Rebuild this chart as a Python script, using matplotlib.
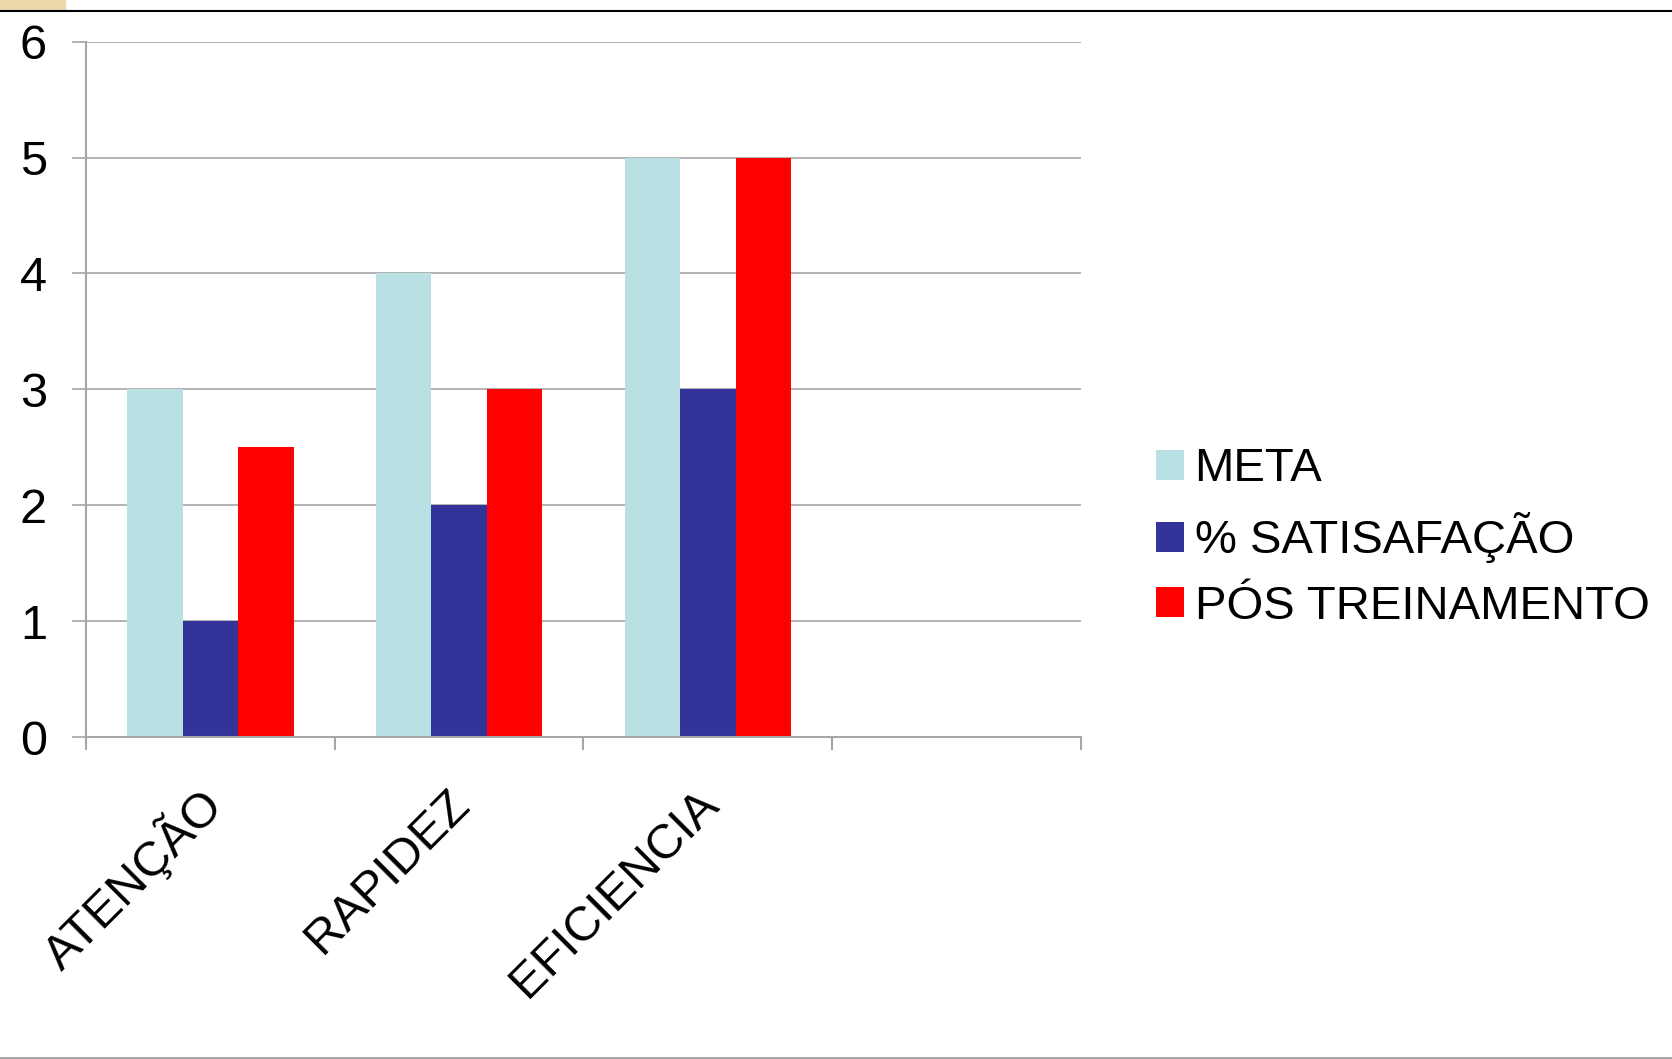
import matplotlib.pyplot as plt
import numpy as np
from matplotlib.lines import Line2D
from matplotlib.patches import Rectangle

categorias = ['ATENÇÃO', 'RAPIDEZ', 'EFICIENCIA', '']
meta = [3, 4, 5, 0]
satisfacao = [1, 2, 3, 0]
pos_treinamento = [2.5, 3, 5, 0]
series = ['META', '% SATISAFAÇÃO', 'PÓS TREINAMENTO']
cores = ['#B9E0E3', '#333399', '#FF0000']

plt.rcParams['font.family'] = ['Liberation Sans', 'DejaVu Sans']

fig = plt.figure(figsize=(16.72, 10.59), dpi=100)
ax = fig.add_axes([0.0514, 0.304, 0.5951, 0.6567])

x = np.arange(len(categorias))
w = 0.223
ax.bar(x - w, meta, w, color=cores[0], label=series[0])
ax.bar(x, satisfacao, w, color=cores[1], label=series[1])
ax.bar(x + w, pos_treinamento, w, color=cores[2], label=series[2])

ax.set_xlim(-0.5, len(categorias) - 0.5)
ax.set_ylim(0, 6)
ax.set_yticks(range(7))
ax.grid(axis='y', color='#a6a6a6', linewidth=1.2)
ax.set_axisbelow(True)

for s in ['top', 'right']:
    ax.spines[s].set_visible(False)
for s in ['left', 'bottom']:
    ax.spines[s].set_color('#a6a6a6')
    ax.spines[s].set_linewidth(1.5)

ax.tick_params(axis='y', length=10, width=1.2, color='#a6a6a6', labelsize=35, pad=18)
ax.set_xticks(np.arange(-0.5, len(categorias), 1.0))
ax.set_xticklabels([])
ax.tick_params(axis='x', length=9, width=1.5, color='#a6a6a6')

for xi, nome in zip(x, categorias):
    ax.annotate(nome, xy=(xi, 0), xycoords=('data', 'axes fraction'),
                xytext=(2.5, -43), textcoords='offset points',
                rotation=45, rotation_mode='anchor', ha='right', va='center',
                fontsize=35)

leg = fig.legend(loc='center left', bbox_to_anchor=(0.680, 0.492), frameon=False,
                 fontsize=34, handlelength=0.6, handleheight=0.6,
                 handletextpad=0.22, labelspacing=0.45, borderaxespad=0)

fig.add_artist(Line2D([0, 1], [1 - 10.5 / 1059] * 2, color='black', linewidth=1.5))
fig.add_artist(Rectangle((0, 1 - 9 / 1059), 65 / 1672, 9 / 1059, color='#EBD9AC'))
fig.add_artist(Line2D([0, 1], [1.5 / 1059] * 2, color='#a0a0a0', linewidth=2))

fig.savefig('out.png', dpi=100)
